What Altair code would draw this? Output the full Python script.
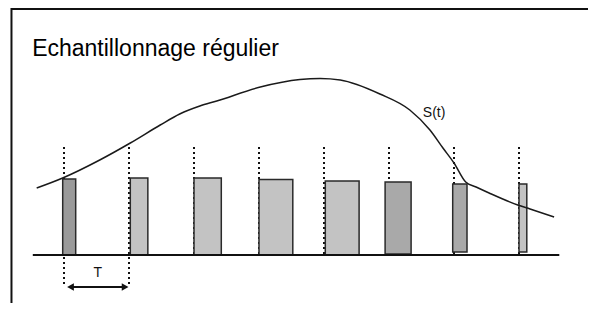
import altair as alt
import pandas as pd

# Signal S(t): time in units of the sampling period T, amplitude in arbitrary units
curve_t = [-0.42, -0.02, 0.55, 1.02, 1.48, 1.78, 2.09, 2.35, 3.02, 3.63, 3.94, 4.25,
           4.86, 5.32, 5.63, 5.83, 6.0, 6.18, 6.34, 6.54, 6.98, 7.17, 7.54]
curve_s = [6.7, 7.7, 9.5, 11.2, 13.0, 14.1, 14.9, 15.4, 16.8, 17.55, 17.65, 17.5,
           16.1, 14.5, 12.5, 10.7, 9.2, 7.3, 6.8, 6.2, 5.0, 4.6, 3.8]

# Sampling pulses
sample_k = [0, 1, 2, 3, 4, 5, 6, 7]
bar_start = [-0.02, 1.02, 2.0, 3.0, 4.02, 4.94, 5.98, 7.0]
bar_end = [0.18, 1.29, 2.42, 3.52, 4.54, 5.34, 6.2, 7.12]
bar_top = [7.6, 7.7, 7.7, 7.55, 7.4, 7.3, 7.1, 7.1]
bar_bottom = [0, 0, 0, 0, 0, 0.1, 0.3, 0.3]
bar_fill = ["#9a9a9a", "#c3c3c3", "#c3c3c3", "#c3c3c3", "#c3c3c3", "#a9a9a9", "#a9a9a9", "#c3c3c3"]

# Dotted sampling instants
dot_top = [10.8] * 8
dot_bottom = [-3.0, -3.0, 0, 0, 0, 0, 0, 0]

xs = alt.Scale(domain=[-56 / 65, 524 / 65], nice=False, zero=False)
ys = alt.Scale(domain=[-4.8, 24.7], nice=False, zero=False)

curve_df = pd.DataFrame({"t": curve_t, "s": curve_s})
bars_df = pd.DataFrame({"k": sample_k, "t0": bar_start, "t1": bar_end,
                        "top": bar_top, "bottom": bar_bottom, "fill": bar_fill})
dots_df = pd.DataFrame({"t": [float(k) for k in sample_k], "top": dot_top, "bottom": dot_bottom})

base_df = pd.DataFrame({"t0": [-0.48], "t1": [7.62], "s": [0.0]})
arrow_df = pd.DataFrame({"t0": [0.08], "t1": [0.96], "s": [-3.2]})
heads_df = pd.DataFrame({"t": [0.1, 0.94], "s": [-3.2, -3.2],
                         "shape": ["triangle-left", "triangle-right"]})
labels_df = pd.DataFrame({"t": [0.52, 5.52], "s": [-2.2, 13.8], "text": ["T", "S(t)"]})
title_df = pd.DataFrame({"t": [-0.49], "s": [19.95], "text": ["Echantillonnage régulier"]})
frame_left = pd.DataFrame({"t": [-0.808], "s0": [-4.8], "s1": [24.7]})
frame_top = pd.DataFrame({"t0": [-0.808], "t1": [524 / 65], "s": [24.6]})

X = lambda f: alt.X(f, scale=xs, axis=None)
Y = lambda f: alt.Y(f, scale=ys, axis=None)

frame_l = alt.Chart(frame_left).mark_rule(color="#111", strokeWidth=2).encode(
    x=X("t:Q"), y=Y("s0:Q"), y2="s1:Q")
frame_t = alt.Chart(frame_top).mark_rule(color="#111", strokeWidth=2).encode(
    x=X("t0:Q"), x2="t1:Q", y=Y("s:Q"))

dots = alt.Chart(dots_df).mark_rule(color="#111", strokeWidth=2, strokeDash=[2, 3]).encode(
    x=X("t:Q"), y=Y("top:Q"), y2="bottom:Q")

bars = alt.Chart(bars_df).mark_rect(stroke="#2a2a2a", strokeWidth=1.5).encode(
    x=X("t0:Q"), x2="t1:Q", y=Y("top:Q"), y2="bottom:Q",
    fill=alt.Fill("fill:N", scale=None))

baseline = alt.Chart(base_df).mark_rule(color="#111", strokeWidth=2).encode(
    x=X("t0:Q"), x2="t1:Q", y=Y("s:Q"))

curve = alt.Chart(curve_df).mark_line(color="#1a1a1a", strokeWidth=1.5,
                                      interpolate="monotone").encode(
    x=X("t:Q"), y=Y("s:Q"), order="t:Q")

arrow = alt.Chart(arrow_df).mark_rule(color="#111", strokeWidth=2).encode(
    x=X("t0:Q"), x2="t1:Q", y=Y("s:Q"))
heads = alt.Chart(heads_df).mark_point(filled=True, color="#111", size=60, opacity=1).encode(
    x=X("t:Q"), y=Y("s:Q"), shape=alt.Shape("shape:N", scale=None))

lbl_T = alt.Chart(labels_df.iloc[[0]]).mark_text(
    font="Liberation Sans", fontSize=14, align="center", baseline="alphabetic", color="#111").encode(
    x=X("t:Q"), y=Y("s:Q"), text="text:N")
lbl_S = alt.Chart(labels_df.iloc[[1]]).mark_text(
    font="Liberation Sans", fontSize=14, align="left", baseline="alphabetic", color="#111").encode(
    x=X("t:Q"), y=Y("s:Q"), text="text:N")
title = alt.Chart(title_df).mark_text(
    font="Liberation Sans", fontSize=23, align="left", baseline="alphabetic", color="#000").encode(
    x=X("t:Q"), y=Y("s:Q"), text="text:N")

chart = alt.layer(frame_l, frame_t, dots, bars, baseline, curve, arrow, heads,
                  lbl_T, lbl_S, title).properties(
    width=580, height=295, padding=0, autosize=alt.AutoSizeParams(type="none")
).configure_view(stroke=None)

chart.save("out.html", embed_options={"renderer": "svg", "actions": False})
